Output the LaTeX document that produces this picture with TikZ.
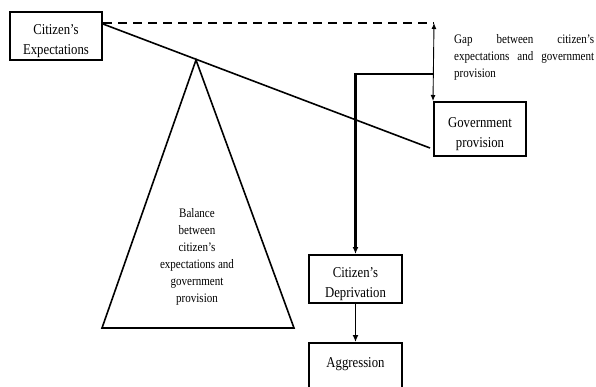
\documentclass[tikz,border=0pt]{standalone}
\usepackage{fontspec}
\setmainfont{Liberation Serif}[FakeStretch = 0.85]
\usetikzlibrary{arrows.meta}
\usetikzlibrary{positioning}
\hyphenpenalty=10000

\newcommand{\topgap}{\rule{0pt}{20pt}}

\tikzset{
	box/.style = {draw, line width = 2pt, align = center, font = \fontsize{15}{20}\selectfont, inner xsep = 2pt, inner ysep = 0.5pt},
	note/.style = {align = center, font = \fontsize{13}{17}\selectfont},
	tip/.style = {-{Latex[length = 7pt, width = 6pt]}}
}

\begin{document}
\begin{tikzpicture}[x = 1pt, y = -1pt]
	\clip (0, 0) rectangle (596, 387);

	% Nodes
	\node[box, minimum width = 92pt, minimum height = 48pt] (exp) at (56, 36) {\topgap Citizen’s\\Expectations};
	\node[box, minimum width = 92pt, minimum height = 54pt] (gov) at (480, 129) {\topgap Government\\provision};
	\node[box, minimum width = 93pt, minimum height = 48pt] (dep) at (355.5, 279) {\topgap Citizen’s\\Deprivation};
	\node[box, minimum width = 93pt, minimum height = 48pt, anchor = north] (agg) at (355.5, 342) {\topgap Aggression\\\mbox{}};
	\node[note] (bal) at (197, 257) {Balance\\between\\citizen’s\\expectations and\\government\\provision};
	\node[note, align = justify, text width = 140pt, anchor = north west, inner sep = 0pt] (gap) at (454, 34.5) {Gap between citizen’s expectations and government provision};

	\coordinate (gaptop) at (434, 23);
	\coordinate (bend) at (434, 74);
	\coordinate (leverend) at (430, 148);
	\coordinate (apex) at (196, 60);

	% Balance
	\draw[line width = 1.6pt] (exp.north east |- gaptop) ++(0, 1) -- (leverend);
	\draw[line width = 1.6pt, line join = miter] (apex) -- (102, 328) -- (294, 328) -- cycle;

	% Edges
	\draw[line width = 1.6pt, dash pattern = on 9pt off 6pt] (exp.north east |- gaptop) -- (gaptop);
	\draw[line width = 0.9pt, {Latex[length = 6pt, width = 5pt]}-{Latex[length = 6pt, width = 5pt]}] (gaptop) -- (gov.north west);
	\draw[line width = 2.2pt, tip] (bend) -- (dep.north |- bend) -- (dep.north);
	\draw[line width = 1.5pt, tip] (dep.south) -- (agg.north);
\end{tikzpicture}
\end{document}
